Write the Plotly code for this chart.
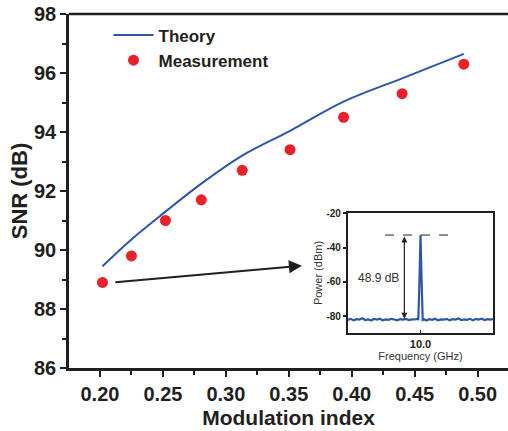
import plotly.graph_objects as go

# Main chart data
mod_index = [0.202, 0.225, 0.252, 0.2805, 0.313, 0.351, 0.3935, 0.440, 0.489]
snr_measured = [88.9, 89.8, 91.0, 91.7, 92.7, 93.4, 94.5, 95.3, 96.3]
snr_theory = [89.45, 90.36, 91.3, 92.25, 93.2, 94.04, 95.03, 95.82, 96.65]

x_ticks = [0.20, 0.25, 0.30, 0.35, 0.40, 0.45, 0.50]
y_ticks = [86, 88, 90, 92, 94, 96, 98]

# Inset spectrum data
freq = [9.50, 9.52, 9.54, 9.56, 9.58, 9.60, 9.62, 9.64, 9.66, 9.68, 9.70, 9.72, 9.74,
        9.76, 9.78, 9.80, 9.82, 9.84, 9.86, 9.88, 9.90, 9.92, 9.94, 9.96, 9.975, 9.985,
        9.993, 10.0, 10.007, 10.015, 10.025, 10.04, 10.06, 10.08, 10.10, 10.12, 10.14,
        10.16, 10.18, 10.20, 10.22, 10.24, 10.26, 10.28, 10.30, 10.32, 10.34, 10.36,
        10.38, 10.40, 10.42, 10.44, 10.46, 10.48, 10.50]
power = [-82.2, -81.6, -82.4, -81.8, -82.0, -81.3, -82.3, -81.9, -82.6, -81.7, -82.1, -81.5,
         -82.4, -81.9, -82.2, -81.6, -82.0, -82.5, -81.8, -82.1, -81.7, -82.3, -81.9, -82.0,
         -81.6, -81.8, -58.0, -32.7, -58.0, -82.3, -81.9, -82.6, -81.8, -82.2, -81.5, -82.4,
         -81.9, -82.1, -81.6, -82.5, -81.8, -82.0, -81.4, -82.3, -81.9, -82.2, -81.6, -82.4,
         -81.7, -82.0, -81.5, -82.3, -81.8, -82.1, -81.7]
inset_y_ticks = [-20, -40, -60, -80]
peak_level = -32.7
noise_level = -81.6
snr_label = "48.9 dB"

FONT = "Liberation Sans, Arial, sans-serif"
BLUE = "#2f55a8"
RED = "#e8212b"
TXT = "#231f20"

fig = go.Figure()

fig.add_trace(go.Scatter(
    x=mod_index, y=snr_theory, mode="lines", name="<b>Theory</b>",
    line=dict(color=BLUE, width=2, shape="spline", smoothing=1.0), xaxis="x", yaxis="y"))
fig.add_trace(go.Scatter(
    x=mod_index, y=snr_measured, mode="markers", name="<b>Measurement</b>",
    marker=dict(color=RED, size=11), xaxis="x", yaxis="y"))

fig.add_trace(go.Scatter(
    x=freq, y=power, mode="lines", showlegend=False,
    line=dict(color=BLUE, width=2.2), xaxis="x2", yaxis="y2"))

axis_common = dict(
    showline=True, linecolor=TXT, linewidth=2.5, mirror=False,
    ticks="outside", tickcolor=TXT, tickwidth=2, ticklen=6,
    showgrid=False, zeroline=False,
    tickfont=dict(family=FONT, size=20, color=TXT, weight="bold"),
)

fig.update_layout(
    width=508, height=431,
    margin=dict(l=69, r=0, t=14, b=63),
    paper_bgcolor="white", plot_bgcolor="white",
    font=dict(family=FONT, color=TXT),
    xaxis=dict(
        **axis_common, range=[0.1754, 0.5241], tickvals=x_ticks,
        tickformat=".2f",
        minor=dict(ticks="outside", dtick=0.025, tick0=0.2, ticklen=4, tickwidth=2, tickcolor=TXT),
        title=dict(text="<b>Modulation index</b>", font=dict(family=FONT, size=21, color=TXT), standoff=7),
    ),
    yaxis=dict(
        **axis_common, range=[86, 98], tickvals=y_ticks,
        minor=dict(ticks="outside", dtick=1, tick0=86, ticklen=4, tickwidth=2, tickcolor=TXT),
        title=dict(text="<b>SNR (dB)</b>", font=dict(family=FONT, size=22, color=TXT), standoff=1),
    ),
    xaxis2=dict(
        domain=[0.635, 0.9665], anchor="y2", range=[9.5, 10.5],
        showline=True, linecolor=TXT, linewidth=1.8, mirror=True,
        ticks="inside", ticklen=3, tickcolor=TXT, tickwidth=1,
        tickvals=[10.0], ticktext=["<b>10.0</b>"],
        tickfont=dict(family=FONT, size=11, color=TXT),
        showgrid=False, zeroline=False,
        title=dict(text="Frequency (GHz)", font=dict(family=FONT, size=11, color="#333"), standoff=0),
    ),
    yaxis2=dict(
        domain=[0.0997, 0.437], anchor="x2", range=[-89.7, -20],
        showline=True, linecolor=TXT, linewidth=1.8, mirror=True,
        ticks="outside", ticklen=3, tickcolor=TXT, tickwidth=1.5,
        tickvals=inset_y_ticks, ticktext=[f"<b>{v}</b>" for v in inset_y_ticks],
        tickfont=dict(family=FONT, size=10, color=TXT),
        showgrid=False, zeroline=False,
        title=dict(text="Power (dBm)", font=dict(family=FONT, size=11, color="#333"), standoff=2),
    ),
    legend=dict(
        x=0.09, y=0.99, xanchor="left", yanchor="top",
        bgcolor="rgba(0,0,0,0)", font=dict(family=FONT, size=17, color=TXT),
        itemwidth=40, tracegroupgap=0, traceorder="normal",
    ),
    showlegend=True,
)

# top frame line of main plot
fig.add_shape(type="line", xref="paper", yref="paper", x0=0, x1=1, y0=1, y1=1,
              line=dict(color=TXT, width=2.5))

# white background behind inset
fig.add_shape(type="rect", xref="x2 domain", yref="y2 domain", x0=0, x1=1, y0=0, y1=1,
              fillcolor="white", line=dict(width=0), layer="below")

# black arrow from first measurement point to inset
fig.add_annotation(
    x=0.3604, y=89.47, ax=mod_index[0] + 0.009, ay=snr_measured[0],
    xref="x", yref="y", axref="x", ayref="y",
    showarrow=True, arrowhead=2, arrowsize=1.3, arrowwidth=2, arrowcolor=TXT, text="")

# dashed line at peak level
fig.add_shape(type="line", xref="x2", yref="y2", x0=9.756, x1=10.237, y0=peak_level, y1=peak_level,
              line=dict(color=TXT, width=1, dash="dash"))

# double arrow showing SNR
fig.add_annotation(
    x=9.889, y=noise_level, ax=9.889, ay=peak_level,
    xref="x2", yref="y2", axref="x2", ayref="y2",
    showarrow=True, arrowhead=2, startarrowhead=2, arrowside="end+start",
    arrowsize=1, arrowwidth=1.2, arrowcolor=TXT, text="")

fig.add_annotation(
    x=9.71, y=-57.5, xref="x2", yref="y2", text=snr_label, showarrow=False,
    font=dict(family=FONT, size=12, color="#333"))

fig.write_html("out.html")
